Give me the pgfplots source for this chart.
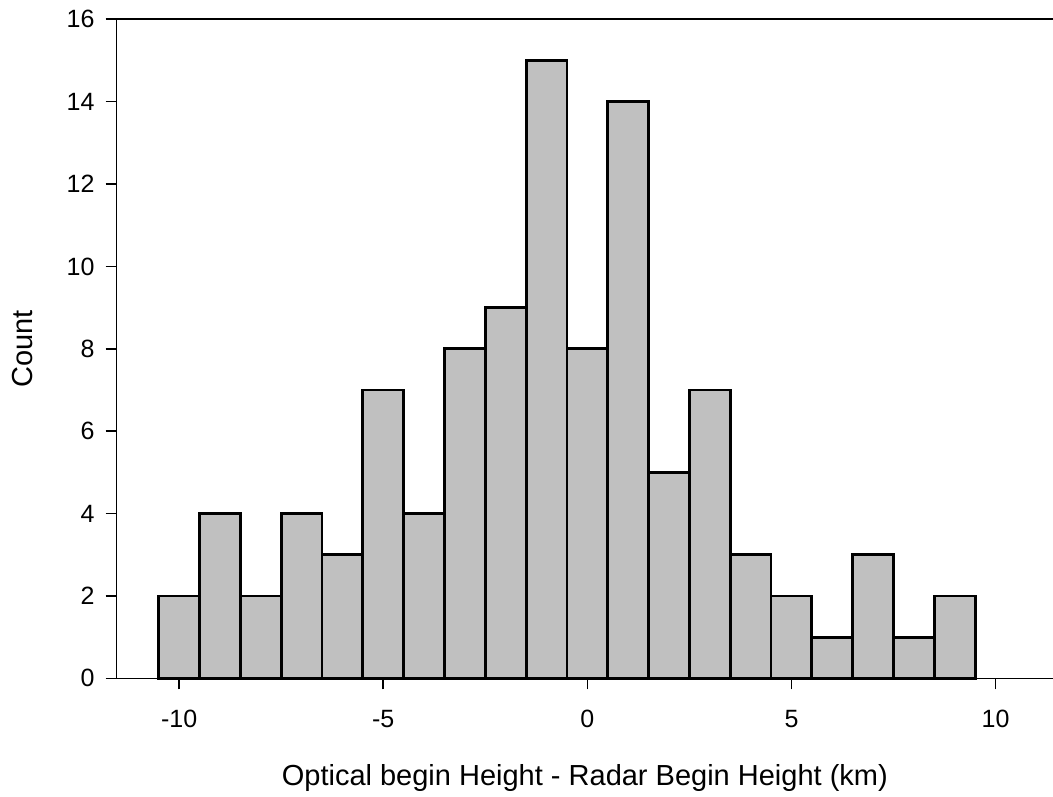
\documentclass[border=0pt]{standalone}
\usepackage{fontspec}
\setmainfont{Liberation Sans}
\usepackage{pgfplots}
\usepackage{pgfplotstable}
\pgfplotsset{compat=1.18}

% histogram of height differences, bin width 1 km (bin centre, count)
\pgfplotstableread{
centre count
-10 2
-9  4
-8  2
-7  4
-6  3
-5  7
-4  4
-3  8
-2  9
-1  15
0   8
1   14
2   5
3   7
4   3
5   2
6   1
7   3
8   1
9   2
}\histdata

\definecolor{barfill}{RGB}{192,192,192}

\begin{document}
\begin{tikzpicture}
% page frame: the right-hand spine falls just outside it
\useasboundingbox (-116.7pt,-117.7pt) rectangle (936.3pt,678.3pt);
\begin{axis}[
  at={(0pt,0pt)}, anchor=south west,
  scale only axis,
  width=940.1pt, height=659pt,
  xmin=-11.53, xmax=11.5,
  ymin=0, ymax=16,
  axis line style={line width=1.6pt, black},
  xtick={-10,-5,0,5,10},
  ytick={0,2,...,16},
  xtick pos=bottom, ytick pos=left,
  tick align=outside,
  major tick length=11pt,
  xtick style={draw=black, line width=1.6pt},
  ytick style={draw=black, line width=1.6pt},
  /pgf/number format/assume math mode=true,
  ticklabel style={font=\fontsize{25}{30}\selectfont},
  xticklabel style={anchor=base, yshift=-38.4pt},
  yticklabel style={anchor=east, inner sep=0pt, xshift=-11pt},
  xlabel={Optical begin Height - Radar Begin Height (km)},
  ylabel={Count},
  every axis x label/.style={at={([xshift=-1.9pt]axis description cs:0.5,0)}, anchor=base,
    yshift=-106.7pt, font=\fontsize{29}{34}\selectfont},
  every axis y label/.style={at={([xshift=-94pt]axis description cs:0,0.5)},
    anchor=center, rotate=90, font=\fontsize{29}{34}\selectfont},
  clip=false,
]
\addplot[ybar, bar width=1, bar shift=0pt, fill=barfill, draw=black, line width=2.8pt]
  table[x=centre, y=count] {\histdata};
\end{axis}
\end{tikzpicture}
\end{document}
